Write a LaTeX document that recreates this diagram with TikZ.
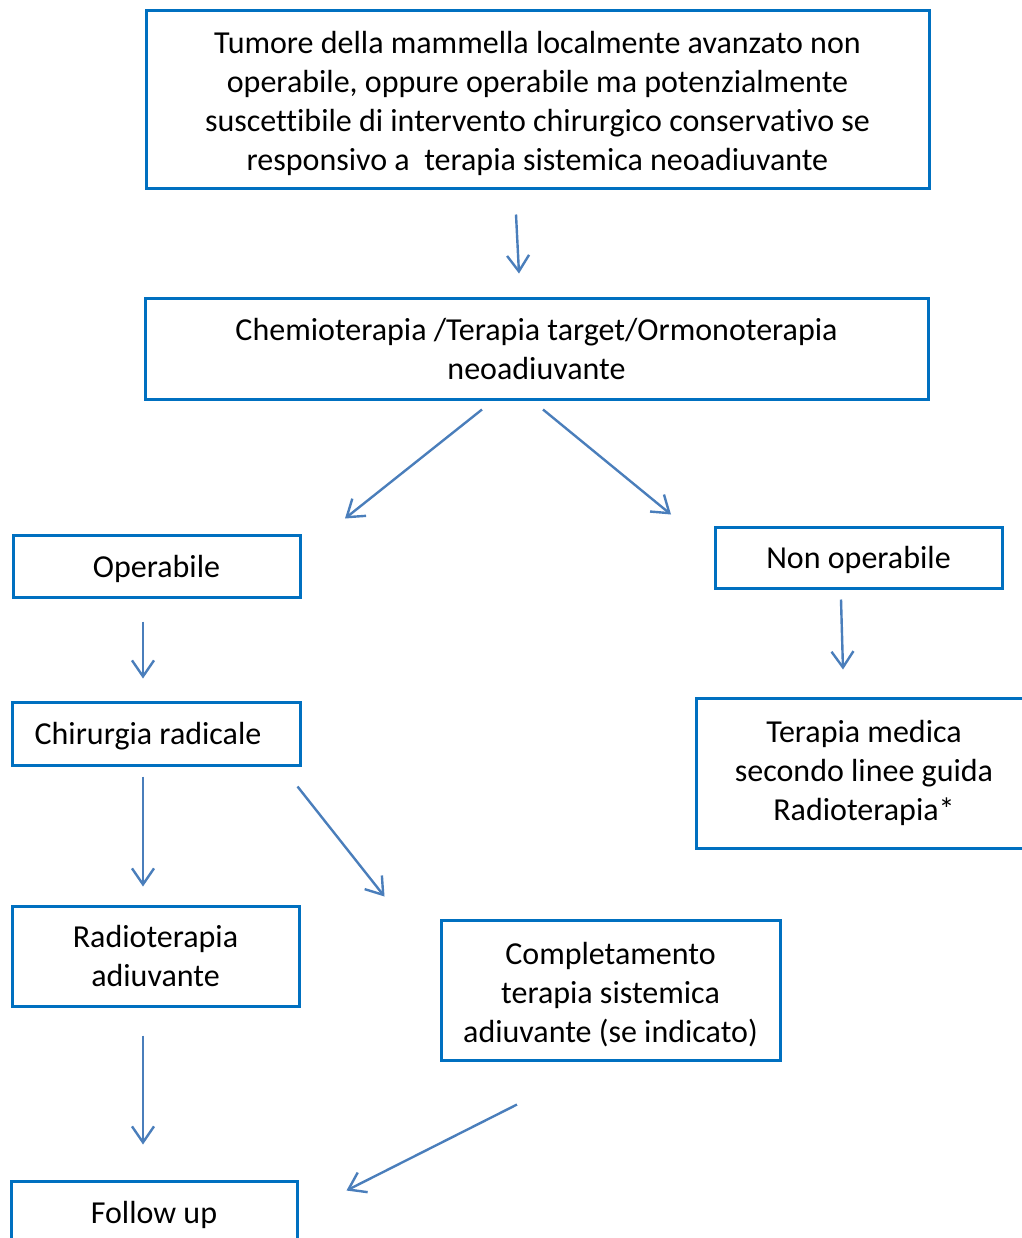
\documentclass[tikz,border=0pt]{standalone}
\usepackage{fontspec}
\setmainfont{Carlito}[Ligatures=NoCommon]
\usetikzlibrary{arrows.meta,calc}
\definecolor{boxblue}{HTML}{0070C0}
\definecolor{arrblue}{HTML}{4A7EBB}
\newcommand{\lowerline}{\rule{0pt}{15.5pt}}
\tikzset{
  box/.style={draw=boxblue, line width=1.5pt, rectangle, inner sep=0pt, align=center,
    font=\fontsize{16}{19.5}\selectfont, text=black,
    execute at begin node={\rule{0pt}{14pt}}},
  arr/.style={draw=arrblue, line width=1.2pt, -{Straight Barb[length=8pt,width=11pt,line width=1.2pt]}}
}
\begin{document}
\begin{tikzpicture}[x=0.5pt,y=-0.5pt]
\useasboundingbox (0,0) rectangle (1022,1238);
\clip (0,0) rectangle (1022,1238);
\node[box, minimum width=391.5pt, minimum height=89pt] (top) at (537.5,99)
  {\lowerline Tumore della mammella localmente avanzato non\\operabile, oppure operabile ma potenzialmente\\suscettibile di intervento chirurgico conservativo se\\responsivo a\ \ terapia sistemica neoadiuvante};
\node[box, minimum width=391.5pt, minimum height=50.5pt] (chemo) at (536.5,348.5)
  {Chemioterapia /Terapia target/Ormonoterapia\\neoadiuvante};
\node[box, minimum width=143.5pt, minimum height=31pt] (opb) at (156.5,566) {Operabile};
\node[box, minimum width=143.5pt, minimum height=30.5pt] (nonop) at (858.5,557.5) {Non operabile};
\node[box, minimum width=144pt, minimum height=31.5pt] (chir) at (156,733.5) {\hspace*{-8pt}Chirurgia radicale};
\node[box, minimum width=168pt, minimum height=75pt] (ter) at (864,773)
  {Terapia medica\\secondo linee guida\\Radioterapia*};
\node[box, minimum width=143.5pt, minimum height=50pt] (radio) at (155.5,956) {Radioterapia\\adiuvante};
\node[box, minimum width=169.5pt, minimum height=70pt] (comp) at (610.5,990)
  {\lowerline Completamento\\terapia sistemica\\adiuvante (se indicato)};
\node[box, minimum width=143pt, minimum height=31pt] (follow) at (154,1212) {Follow up};
\draw[arr] ($(top.south)+(-21.5,25)$) -- ($(chemo.north)+(-17.5,-23)$);
\draw[arr] ($(chemo.south)+(-54.5,9)$) -- ($(opb.north)+(188.5,-15)$);
\draw[arr] ($(chemo.south)+(6.5,9)$) -- ($(nonop.north)+(-187.5,-11)$);
\draw[arr] ($(opb.south)+(-13.5,23)$) -- ($(chir.north)+(-13,-22)$);
\draw[arr] ($(nonop.south)+(-17.5,10)$) -- ($(ter.north)+(-21,-27)$);
\draw[arr] ($(chir.south)+(-13,10)$) -- ($(radio.north)+(-12.5,-18)$);
\draw[arr] ($(chir.south east)+(-4,20)$) -- ($(comp.north west)+(-55,-22)$);
\draw[arr] ($(radio.south)+(-12.5,28)$) -- ($(follow.north)+(-11,-35)$);
\draw[arr] ($(comp.south)+(-93.5,43)$) -- ($(follow.north east)+(48,11)$);
\end{tikzpicture}
\end{document}
